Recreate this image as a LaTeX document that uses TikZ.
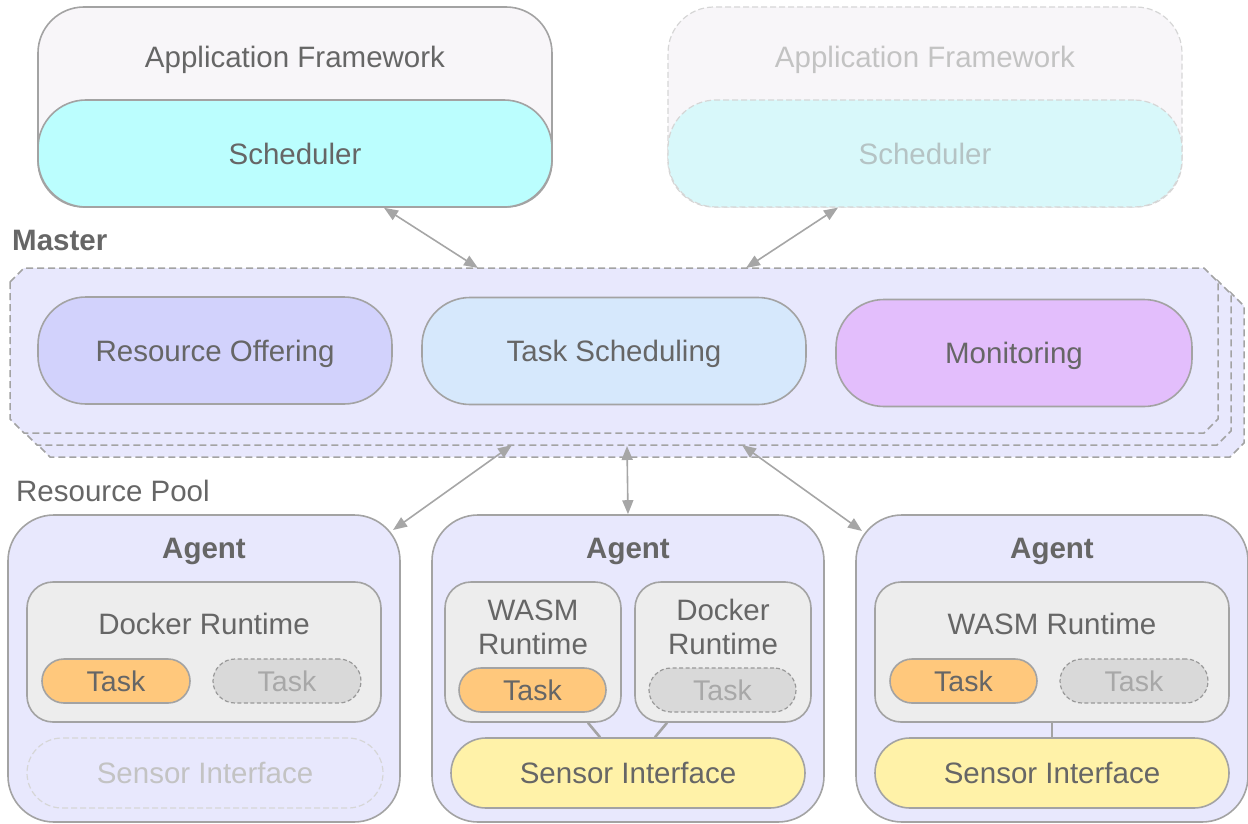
\documentclass[tikz,border=0pt]{standalone}
\usepackage{fontspec}
\setmainfont{Liberation Sans}
\usetikzlibrary{arrows.meta,calc}
\definecolor{bord}{HTML}{A3A3A3}
\definecolor{txt}{HTML}{666666}
\definecolor{fwfill}{HTML}{F8F6F9}
\definecolor{schedfill}{HTML}{BBFEFE}
\definecolor{fadebord}{HTML}{D6D6D6}
\definecolor{fadetxt}{HTML}{C3C3C3}
\definecolor{fadesched}{HTML}{D8F8FA}
\definecolor{fadeschedtxt}{HTML}{B5C3C4}
\definecolor{masterfill}{HTML}{E8E8FD}
\definecolor{rofill}{HTML}{D2D2FC}
\definecolor{tsfill}{HTML}{D6E8FC}
\definecolor{monfill}{HTML}{E3BEFC}
\definecolor{rtfill}{HTML}{EDEDED}
\definecolor{taskfill}{HTML}{FFC87C}
\definecolor{ghostfill}{HTML}{D9D9D9}
\definecolor{ghosttxt}{HTML}{A8A8A8}
\definecolor{ghostbord}{HTML}{999999}
\definecolor{sensfill}{HTML}{FFF2A8}
\definecolor{arrowcol}{HTML}{A6A6A6}
\newcommand\bigtxt{\fontsize{29.5}{34}\selectfont}
\newcommand\tasktxt{\fontsize{28.5}{32}\selectfont}
\begin{document}
\begin{tikzpicture}[x=1pt,y=-1pt,
  box/.style={draw=bord, line width=1.6pt, rectangle, inner sep=0pt},
  fadebox/.style={draw=fadebord, line width=1.2pt, dash pattern=on 6pt off 3pt, rectangle, inner sep=0pt},
  lbl/.style={text=txt, font=\bigtxt, inner sep=0pt, text depth=0pt},
  boldlbl/.style={text=txt, font=\bigtxt\bfseries, inner sep=0pt, text depth=0pt},
  pill/.style={box, minimum height=107pt, rounded corners=48pt, font=\bigtxt, text=txt, text depth=0pt},
  taskbox/.style={box, fill=taskfill, minimum width=148pt, minimum height=44pt, rounded corners=22pt, font=\tasktxt, text=txt},
  ghosttask/.style={draw=ghostbord, line width=1.2pt, dash pattern=on 4pt off 2.5pt, fill=ghostfill, rectangle, inner sep=0pt, minimum width=148pt, minimum height=44pt, rounded corners=22pt, font=\tasktxt, text=ghosttxt},
  rtbox/.style={box, fill=rtfill, rounded corners=26pt},
  agentbox/.style={box, fill=masterfill, minimum width=392pt, minimum height=307pt, rounded corners=46pt},
  sensbox/.style={box, fill=sensfill, minimum height=70pt, rounded corners=35pt, font=\bigtxt, text=txt},
  layer/.style={draw=bord, line width=1.5pt, dash pattern=on 7pt off 4pt, fill=masterfill},
  biarrow/.style={draw=arrowcol, line width=1.6pt, arrows={Triangle[length=14pt,width=11pt]-Triangle[length=14pt,width=11pt]}},
  link/.style={draw=bord, line width=2.6pt}
]
\useasboundingbox (0,0) rectangle (1248,824);

% ---- Application frameworks ----
\node[box, fill=fwfill, minimum width=514pt, minimum height=200pt, rounded corners=46pt] (fw1) at (295,107) {};
\node[pill, fill=schedfill, minimum width=514pt] (sch1) at (295,153.5) {Scheduler};
\node[lbl] (fw1t) at (295,57) {Application Framework};

\node[fadebox, fill=fwfill, minimum width=514pt, minimum height=200pt, rounded corners=46pt] (fw2) at (925,107) {};
\node[fadebox, fill=fadesched, minimum width=514pt, minimum height=107pt, rounded corners=48pt, font=\bigtxt, text=fadeschedtxt] (sch2) at (925,153.5) {Scheduler};
\node[lbl, text=fadetxt] (fw2t) at (925,57) {Application Framework};

% ---- Master ----
\node[boldlbl, anchor=west] (masterlbl) at (12,240) {Master};
\path[layer] (36,306) -- (50,292) -- (1230,292) -- (1244,306) -- (1244,443) -- (1230,457) -- (50,457) -- (36,443) -- cycle;
\path[layer] (23,294) -- (37,280) -- (1217,280) -- (1231,294) -- (1231,431) -- (1217,445) -- (37,445) -- (23,431) -- cycle;
\path[layer] (10,282) -- (24,268) -- (1204,268) -- (1218,282) -- (1218,419) -- (1204,433) -- (24,433) -- (10,419) -- cycle;
\coordinate (mtop1) at (478,268);
\coordinate (mtop2) at (746,268);
\coordinate (mbot1) at (512,445);
\coordinate (mbot2) at (627,446);
\coordinate (mbot3) at (742,445);

\node[pill, fill=rofill, minimum width=354pt] (ro) at (215,350.5) {Resource Offering};
\node[pill, fill=tsfill, minimum width=384pt] (ts) at (614,351) {Task Scheduling};
\node[pill, fill=monfill, minimum width=356pt] (mon) at (1014,353) {Monitoring};

% ---- Resource pool ----
\node[lbl, anchor=west] (poollbl) at (16,491) {Resource Pool};

% Agent 1
\node[agentbox] (ag1) at (204,668.5) {};
\node[boldlbl] (ag1t) at (204,548) {Agent};
\node[rtbox, minimum width=354pt, minimum height=140pt] (rt1) at (204,652) {};
\node[lbl] (rt1t) at (204,624) {Docker Runtime};
\node[taskbox] (t1a) at (116,681) {Task};
\node[ghosttask] (t1b) at (287,681) {Task};
\node[fadebox, minimum width=356pt, minimum height=70pt, rounded corners=35pt, font=\bigtxt, text=fadetxt] (sens1) at (205,773) {Sensor Interface};

% Agent 2
\node[agentbox] (ag2) at (628,668.5) {};
\node[boldlbl] (ag2t) at (628,548) {Agent};
\node[rtbox, minimum width=176pt, minimum height=140pt] (rt2a) at (533,652) {};
\node[lbl, align=center] (rt2at) at (533,627) {WASM\\Runtime};
\node[taskbox, minimum width=147pt] (t2a) at (532.5,690) {Task};
\node[rtbox, minimum width=176pt, minimum height=140pt] (rt2b) at (723,652) {};
\node[lbl, align=center] (rt2bt) at (723,627) {Docker\\Runtime};
\node[ghosttask, minimum width=147pt] (t2b) at (722.5,690) {Task};
\node[sensbox, minimum width=354pt] (sens2) at (628,773) {Sensor Interface};
\draw[link] ($(rt2a.south)+(55,0)$) -- ($(sens2.north)+(-28,0)$);
\draw[link] ($(rt2b.south)+(-56,0)$) -- ($(sens2.north)+(27,0)$);

% Agent 3
\node[agentbox] (ag3) at (1052,668.5) {};
\node[boldlbl] (ag3t) at (1052,548) {Agent};
\node[rtbox, minimum width=354pt, minimum height=140pt] (rt3) at (1052,652) {};
\node[lbl] (rt3t) at (1052,624) {WASM Runtime};
\node[taskbox, minimum width=147pt] (t3a) at (963.5,681) {Task};
\node[ghosttask] (t3b) at (1134,681) {Task};
\node[sensbox, minimum width=354pt] (sens3) at (1052,773) {Sensor Interface};
\draw[link] (rt3.south) -- (sens3.north);

% ---- Arrows ----
\coordinate (ag1c) at (393,530);
\coordinate (ag3c) at (862,531);
\draw[biarrow] ($(sch1.south)+(89,0)$) -- (mtop1);
\draw[biarrow] ($(sch2.south)+(-87,0)$) -- (mtop2);
\draw[biarrow] (mbot1) -- (ag1c);
\draw[biarrow] (mbot2) -- (ag2.north);
\draw[biarrow] (mbot3) -- (ag3c);
\end{tikzpicture}
\end{document}
